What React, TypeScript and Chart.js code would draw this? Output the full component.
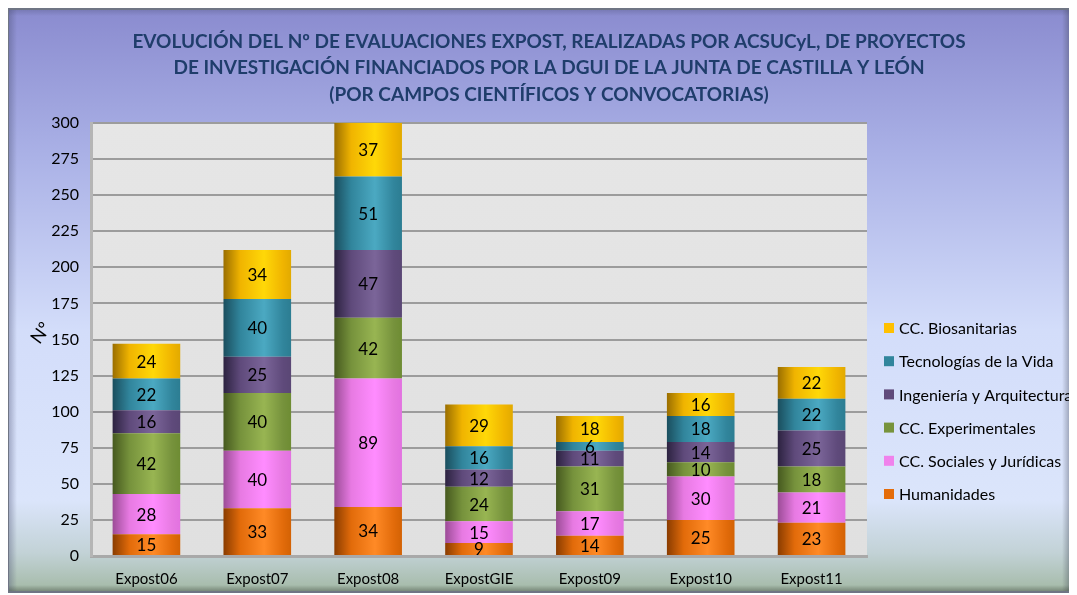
import React, { useEffect, useRef } from "react";
import { Chart, registerables } from "chart.js";

Chart.register(...registerables);

const categories = ["Expost06", "Expost07", "Expost08", "ExpostGIE", "Expost09", "Expost10", "Expost11"];
const humanidades = [15, 33, 34, 9, 14, 25, 23];
const sociales = [28, 40, 89, 15, 17, 30, 21];
const experimentales = [42, 40, 42, 24, 31, 10, 18];
const ingenieria = [16, 25, 47, 12, 11, 14, 25];
const tecnologias = [22, 40, 51, 16, 6, 18, 22];
const biosanitarias = [24, 34, 37, 29, 18, 16, 22];
const seriesNames = [
  "Humanidades",
  "CC. Sociales y Jurídicas",
  "CC. Experimentales",
  "Ingeniería y Arquitectura",
  "Tecnologías de la Vida",
  "CC. Biosanitarias",
];
const titleLines = [
  "EVOLUCIÓN DEL Nº DE EVALUACIONES EXPOST, REALIZADAS POR ACSUCyL, DE PROYECTOS",
  "DE INVESTIGACIÓN FINANCIADOS POR LA DGUI DE LA JUNTA DE CASTILLA Y LEÓN",
  "(POR CAMPOS CIENTÍFICOS Y CONVOCATORIAS)",
];
const yMin = 0;
const yMax = 300;
const yStep = 25;
const yTitle = "Nº";

// style: [dark-left, base, highlight, right]
const palettes = [
  ["#8a3c00", "#e26b0a", "#ff8a26", "#d36204"],
  ["#9c4c97", "#e77ae2", "#ff8cff", "#e272e0"],
  ["#46591f", "#76923c", "#98b552", "#6e8c33"],
  ["#2c2240", "#5f4a7b", "#7b6599", "#5a4775"],
  ["#1a4e5e", "#31859c", "#4ba9c2", "#2c7d92"],
  ["#9a6e00", "#f0b400", "#ffd808", "#e2aa00"],
];
const legendSwatch = ["#e46c0a", "#f082ec", "#77933c", "#604a7b", "#31859c", "#ffc000"];

const FONT = 'Lato, "Open Sans", "DejaVu Sans", sans-serif';
const CAT_PCT = 0.61;

const decorPlugin = {
  id: "decor",
  beforeDraw(chart: any) {
    const { ctx, width, height, chartArea } = chart;
    ctx.save();
    const fx = 0, fy = 0, fw = width - 1, fh = height - 1;
    const g = ctx.createLinearGradient(0, 0, 0, height);
    g.addColorStop(0, "#8a8bcf");
    g.addColorStop(0.25, "#aab1e6");
    g.addColorStop(0.55, "#d3ddfa");
    g.addColorStop(0.84, "#dbe5fb");
    g.addColorStop(0.93, "#c2d2d6");
    g.addColorStop(1, "#a1b7a2");
    ctx.fillStyle = g;
    ctx.fillRect(fx, fy, fw, fh);
    const bl = ctx.createLinearGradient(0, 0, 10, 0);
    bl.addColorStop(0, "rgba(70,75,110,0.45)");
    bl.addColorStop(1, "rgba(70,75,110,0)");
    ctx.fillStyle = bl;
    ctx.fillRect(fx, fy, 10, fh);
    const bt = ctx.createLinearGradient(0, 0, 0, 8);
    bt.addColorStop(0, "rgba(70,75,110,0.35)");
    bt.addColorStop(1, "rgba(70,75,110,0)");
    ctx.fillStyle = bt;
    ctx.fillRect(fx, fy, fw, 8);
    const br = ctx.createLinearGradient(fw - 10, 0, fw, 0);
    br.addColorStop(0, "rgba(60,65,80,0)");
    br.addColorStop(1, "rgba(60,65,80,0.5)");
    ctx.fillStyle = br;
    ctx.fillRect(fw - 10, fy, 10, fh);
    const bb = ctx.createLinearGradient(0, fh - 8, 0, fh);
    bb.addColorStop(0, "rgba(50,60,50,0)");
    bb.addColorStop(1, "rgba(50,60,50,0.5)");
    ctx.fillStyle = bb;
    ctx.fillRect(fx, fh - 8, fw, 8);
    ctx.strokeStyle = "#6f7584";
    ctx.lineWidth = 2;
    ctx.strokeRect(fx + 1, fy + 1, fw - 2, fh - 2);

    const pg = ctx.createLinearGradient(0, chartArea.top, 0, chartArea.bottom);
    pg.addColorStop(0, "#e6e6e6");
    pg.addColorStop(1, "#e0e0e0");
    ctx.fillStyle = pg;
    ctx.fillRect(chartArea.left, chartArea.top, chartArea.right - chartArea.left, chartArea.bottom - chartArea.top);
    ctx.restore();
  },
  afterDraw(chart: any) {
    const { ctx } = chart;
    ctx.save();
    ctx.fillStyle = "#1f3d6b";
    ctx.font = `bold 19px ${FONT}`;
    ctx.textAlign = "center";
    ctx.textBaseline = "middle";
    const titleY = [34, 60, 87];
    titleLines.forEach((t, i) => ctx.fillText(t, 542, titleY[i]));

    ctx.save();
    ctx.translate(34, 325);
    ctx.rotate(-Math.PI * 0.3);
    ctx.fillStyle = "#000";
    ctx.font = `18px ${FONT}`;
    ctx.fillText(yTitle, 0, 0);
    ctx.restore();

    ctx.font = `16px ${FONT}`;
    ctx.textAlign = "left";
    ctx.textBaseline = "middle";
    const n = seriesNames.length;
    for (let k = 0; k < n; k++) {
      const i = n - 1 - k;
      const y = 320 + k * 33.2;
      ctx.fillStyle = legendSwatch[i];
      ctx.fillRect(877, y - 5, 10, 10);
      ctx.fillStyle = "#000";
      ctx.fillText(seriesNames[i], 892, y + 1);
    }
    ctx.restore();
  },
  afterDatasetsDraw(chart: any) {
    const { ctx } = chart;
    ctx.save();
    ctx.font = `17px ${FONT}`;
    ctx.fillStyle = "#000";
    ctx.textAlign = "center";
    ctx.textBaseline = "middle";
    chart.data.datasets.forEach((ds: any, di: number) => {
      const meta = chart.getDatasetMeta(di);
      meta.data.forEach((el: any, i: number) => {
        const v = ds.data[i];
        if (!v) return;
        const cy = (el.y + el.base) / 2;
        ctx.fillText(String(v), el.x, cy + 1);
      });
    });
    ctx.restore();
  },
};

function barFill(si: number) {
  return (c: any) => {
    const chart = c.chart;
    const pal = palettes[si];
    if (!chart.chartArea || !chart.scales.x) return pal[1];
    const xs = chart.scales.x;
    const center = xs.getPixelForValue(c.dataIndex);
    const w = ((xs.right - xs.left) / categories.length) * CAT_PCT;
    const g = chart.ctx.createLinearGradient(center - w / 2, 0, center + w / 2, 0);
    g.addColorStop(0, pal[0]);
    g.addColorStop(0.25, pal[1]);
    g.addColorStop(0.6, pal[2]);
    g.addColorStop(0.88, pal[1]);
    g.addColorStop(1, pal[3]);
    return g;
  };
}

export default function App() {
  const ref = useRef<HTMLCanvasElement | null>(null);
  useEffect(() => {
    if (!ref.current) return;
    const series = [humanidades, sociales, experimentales, ingenieria, tecnologias, biosanitarias];
    const chart = new Chart(ref.current, {
      type: "bar",
      data: {
        labels: categories,
        datasets: series.map((d, i) => ({
          label: seriesNames[i],
          data: d,
          backgroundColor: barFill(i),
          borderWidth: 0,
          barPercentage: 1,
          categoryPercentage: CAT_PCT,
        })),
      },
      options: {
        animation: false,
        responsive: false,
        maintainAspectRatio: false,
        layout: { padding: { left: 0, top: 115, right: 206, bottom: 0 } },
        plugins: {
          legend: { display: false },
          title: { display: false },
          tooltip: { enabled: false },
        },
        scales: {
          x: {
            stacked: true,
            grid: { display: false, drawTicks: false },
            border: { display: true, color: "#a9a9a9", width: 3 },
            ticks: { color: "#000", font: { family: FONT, size: 15 }, padding: 14 },
            afterFit: (s: any) => {
              s.height = 38;
            },
          },
          y: {
            stacked: true,
            min: yMin,
            max: yMax,
            grid: { color: "#9c9c9c", lineWidth: 2, drawTicks: false },
            border: { display: true, color: "#b5b5b5", width: 3 },
            ticks: { stepSize: yStep, color: "#000", font: { family: FONT, size: 16 }, padding: 12 },
            afterFit: (s: any) => {
              s.width = 84;
            },
          },
        },
      },
      plugins: [decorPlugin],
    });
    return () => chart.destroy();
  }, []);
  return (
    <div style={{ width: 1066, height: 586, marginLeft: -1 }}>
      <canvas ref={ref} width={1066} height={586} style={{ display: "block", width: 1066, height: 586 }} />
    </div>
  );
}
